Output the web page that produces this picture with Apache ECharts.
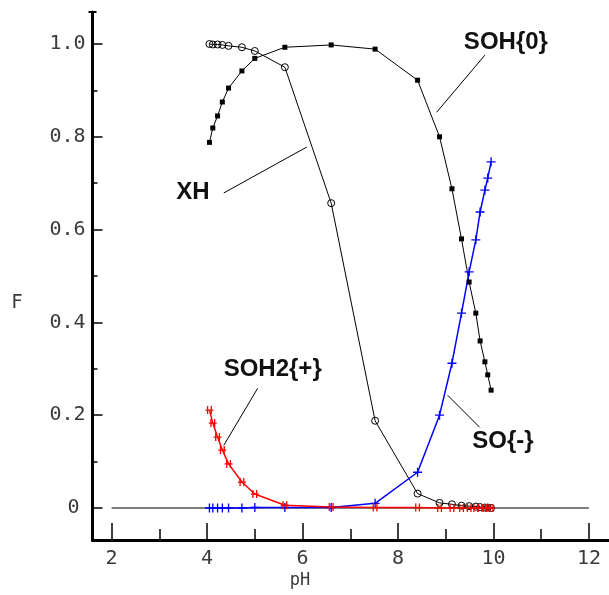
<!DOCTYPE html>
<html><head><meta charset="utf-8">
<script src="https://cdn.jsdelivr.net/npm/echarts@6/dist/echarts.min.js"></script>
<style>html,body{margin:0;padding:0;background:#fff}#c{width:609px;height:595px}</style>
</head><body><div id="c"></div>
<script>
// ---- data ----
const pH    = [4.05, 4.12, 4.22, 4.32, 4.45, 4.73, 5.0, 5.63, 6.6, 7.52, 8.41, 8.87, 9.13, 9.33, 9.49, 9.63, 9.72, 9.82, 9.88, 9.95];
const XH    = [1.0, 0.999, 0.999, 0.998, 0.996, 0.993, 0.985, 0.95, 0.657, 0.188, 0.031, 0.011, 0.008, 0.005, 0.004, 0.003, 0.002, 0.001, 0.001, 0.0];
const SOH0  = [0.788, 0.819, 0.845, 0.875, 0.905, 0.942, 0.969, 0.993, 0.998, 0.989, 0.922, 0.80, 0.688, 0.58, 0.487, 0.42, 0.36, 0.315, 0.287, 0.254];
const SOm   = [0, 0, 0, 0, 0, 0, 0.001, 0.001, 0.001, 0.01, 0.077, 0.2, 0.312, 0.42, 0.509, 0.578, 0.638, 0.685, 0.711, 0.746];
const SOH2p = [0.211, 0.183, 0.153, 0.125, 0.095, 0.056, 0.030, 0.006, 0.002, 0.001, 0.001, 0, 0, 0, 0, 0, 0, 0, 0, 0];
const zeroX = [2, 12];
const zeroY = [0, 0];
const xTickLabels = [2, 4, 6, 8, 10, 12];
const xMinorTicks = [3, 5, 7, 9, 11];
const yTickLabels = [0, 0.2, 0.4, 0.6, 0.8, 1.0];
const yMinorTicks = [0.1, 0.3, 0.5, 0.7, 0.9];
// annotations (data coordinates)
const annotText  = ['XH', 'SOH{0}', 'SOH2{+}', 'SO{-}'];
const annotAt    = [[4.055, 0.681], [10.26, 1.004], [5.375, 0.299], [10.2, 0.144]];
const annotAlign = ['right', 'center', 'center', 'center'];
const leaderFrom = [[4.35, 0.679], [9.82, 0.976], [5.06, 0.258], [9.71, 0.174]];
const leaderTo   = [[6.09, 0.778], [8.81, 0.853], [4.35, 0.135], [9.04, 0.243]];

const zip = (xs, ys) => xs.map((x, i) => [x, ys[i]]);
const X_MIN = 1.6, X_MAX = 12.42, Y_MIN = -0.069, Y_MAX = 1.069;
const monoFont = 'DejaVu Sans Mono';
const labelColor = '#3a3a3a';

const chart = echarts.init(document.getElementById('c'), null, {renderer: 'canvas'});
const tickStyle = {color: '#000', width: 1.5};
chart.setOption({
  animation: false,
  backgroundColor: '#fff',
  grid: {left: 92.5, right: 0, top: 12, bottom: 55},
  xAxis: [{
    type: 'value', min: X_MIN, max: X_MAX, position: 'bottom',
    axisLine: {show: true, onZero: false, lineStyle: {color: '#000', width: 3}},
    axisTick: {show: true, inside: true, length: 17, customValues: xTickLabels, lineStyle: tickStyle},
    axisLabel: {show: true, customValues: xTickLabels, margin: 9, fontFamily: monoFont, fontSize: 20, color: labelColor},
    splitLine: {show: false}
  }, {
    type: 'value', min: X_MIN, max: X_MAX, position: 'bottom',
    axisLine: {show: false, onZero: false},
    axisTick: {show: true, inside: true, length: 11, customValues: xMinorTicks, lineStyle: tickStyle},
    axisLabel: {show: false},
    splitLine: {show: false}
  }],
  yAxis: [{
    type: 'value', min: Y_MIN, max: Y_MAX, position: 'left',
    axisLine: {show: true, onZero: false, lineStyle: {color: '#000', width: 3}},
    axisTick: {show: true, inside: true, length: 10, customValues: yTickLabels, lineStyle: tickStyle},
    axisLabel: {
      show: true, customValues: yTickLabels, margin: 7, fontFamily: monoFont, fontSize: 20, color: labelColor,
      formatter: v => Math.abs(v) < 1e-9 ? '{z|0}' : v.toFixed(1),
      rich: {z: {fontFamily: monoFont, fontSize: 20, color: labelColor, padding: [0, 6, 0, 0]}}
    },
    splitLine: {show: false}
  }, {
    type: 'value', min: Y_MIN, max: Y_MAX, position: 'left',
    axisLine: {show: false, onZero: false},
    axisTick: {show: true, inside: true, length: 5, customValues: yMinorTicks, lineStyle: tickStyle},
    axisLabel: {show: false},
    splitLine: {show: false}
  }],
  series: [
    {type: 'line', name: 'zero', data: zip(zeroX, zeroY), symbol: 'none', silent: true,
     lineStyle: {color: '#000', width: 1}},
    {type: 'line', name: 'SOH{0}', data: zip(pH, SOH0), symbol: 'rect', symbolSize: 5, silent: true,
     itemStyle: {color: '#000'}, lineStyle: {color: '#000', width: 1}},
    {type: 'line', name: 'XH', data: zip(pH, XH), symbol: 'circle', symbolSize: 7, silent: true,
     itemStyle: {color: 'rgba(255,255,255,0)', borderColor: '#000', borderWidth: 1}, lineStyle: {color: '#000', width: 1}},
    {type: 'line', name: 'SO{-}', data: zip(pH, SOm), silent: true,
     symbol: 'path://M4,0h1.4v9.4h-1.4z M0,4h9.4v1.4h-9.4z', symbolSize: 9, symbolKeepAspect: true,
     itemStyle: {color: '#0000ff'}, lineStyle: {color: '#0000ff', width: 1.5}},
    {type: 'line', name: 'SOH2{+}', data: zip(pH, SOH2p), silent: true,
     symbol: 'path://M1.5,0h1.3v8h-1.3z M5.2,0h1.3v8h-1.3z M0,3.4h8v1.3h-8z', symbolSize: 8, symbolKeepAspect: true,
     itemStyle: {color: '#ff0000'}, lineStyle: {color: '#ff0000', width: 1.5}}
  ]
});

const gfx = [];
annotText.forEach((t, i) => {
  const p = chart.convertToPixel({gridIndex: 0}, annotAt[i]);
  gfx.push({type: 'text', x: p[0], y: p[1], silent: true,
    style: {text: t, font: 'bold 24px "Liberation Sans", Arial, sans-serif', fill: '#111', align: annotAlign[i], verticalAlign: 'middle'}});
  const a = chart.convertToPixel({gridIndex: 0}, leaderFrom[i]);
  const b = chart.convertToPixel({gridIndex: 0}, leaderTo[i]);
  gfx.push({type: 'line', silent: true, shape: {x1: a[0], y1: a[1], x2: b[0], y2: b[1]}, style: {stroke: '#000', lineWidth: 1}});
});
// top cap of the y axis
const axisTopPx = chart.convertToPixel({gridIndex: 0}, [X_MIN, Y_MAX]);
gfx.push({type: 'line', silent: true, shape: {x1: axisTopPx[0] - 4, y1: axisTopPx[1], x2: axisTopPx[0] + 4, y2: axisTopPx[1]}, style: {stroke: '#000', lineWidth: 2}});
gfx.push({type: 'text', x: 17, y: 303, silent: true,
  style: {text: 'F', font: '19px "DejaVu Sans Mono"', fill: labelColor, align: 'center', verticalAlign: 'middle'}});
gfx.push({type: 'text', x: 300, y: 581, silent: true,
  style: {text: 'pH', font: '17px "DejaVu Sans Mono"', fill: labelColor, align: 'center', verticalAlign: 'middle'}});
chart.setOption({graphic: gfx});
</script></body></html>
